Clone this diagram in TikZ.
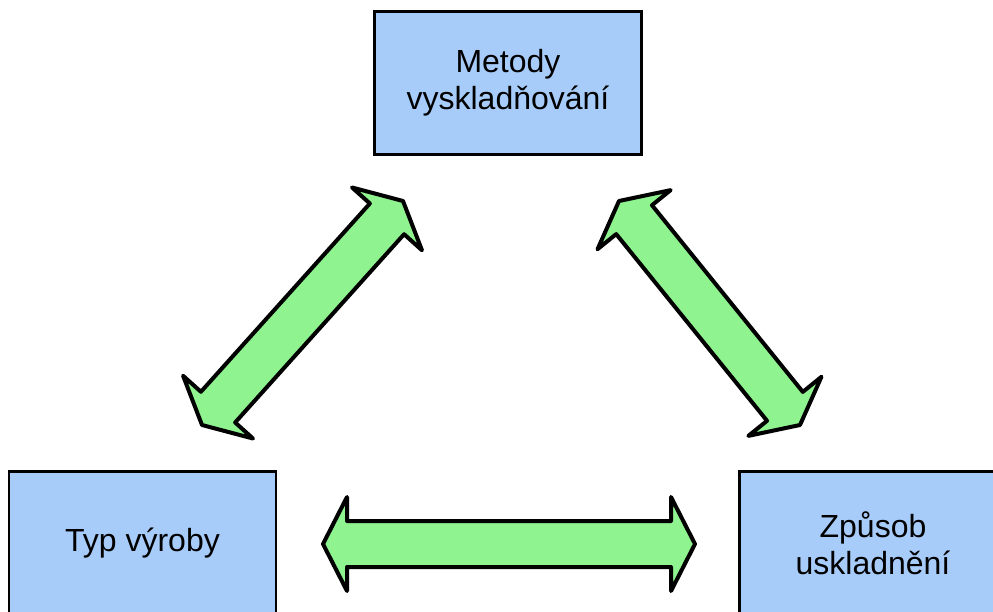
\documentclass[tikz,border=0pt]{standalone}
\usepackage{fontspec}
\setmainfont{Liberation Sans}
\usetikzlibrary{calc}
\definecolor{boxblue}{RGB}{168,204,250}
\definecolor{arrowgreen}{RGB}{143,243,143}
\tikzset{
  x=1pt, y=-1pt,
  topic/.style={draw=black, line width=2.6pt, fill=boxblue,
    minimum width=267pt, minimum height=143pt, inner sep=0pt,
    align=center, font=\fontsize{32}{37}\selectfont},
  arrowbody/.style={draw=black, line width=4pt, fill=arrowgreen, line join=round},
  pics/dblarrow/.style={code={
    \path[arrowbody] (0,0) -- (24,47) -- (24,23) -- (#1-24,23) -- (#1-24,47)
      -- (#1,0) -- (#1-24,-47) -- (#1-24,-23) -- (24,-23) -- (24,-47) -- cycle;
  }}
}
\newcommand\linkarrow[2]{%
  \path let \p1=($(#2)-(#1)$), \n1={atan2(\y1,\x1)}, \n2={veclen(\x1,\y1)} in
    (#1) pic[rotate=\n1] {dblarrow=\n2};}
\begin{document}
\begin{tikzpicture}
\clip (0,0) rectangle (993,612);
\fill[white] (0,0) rectangle (993,612);

\node[topic] (metody) at (508,83) {Metody\\vyskladňování};
\node[topic] (typ) at (142.5,543) {Typ výroby};
\node[topic] (zpusob) at (873,543) {Způsob\\uskladnění};

% arrow tips between the three boxes
\coordinate (l1) at (202,425);
\coordinate (l2) at (403,201);
\coordinate (r1) at (619,201);
\coordinate (r2) at (800,425);
\coordinate (h1) at (323,544);
\coordinate (h2) at (695,544);

\linkarrow{l1}{l2}
\linkarrow{r1}{r2}
\linkarrow{h1}{h2}
\end{tikzpicture}
\end{document}
